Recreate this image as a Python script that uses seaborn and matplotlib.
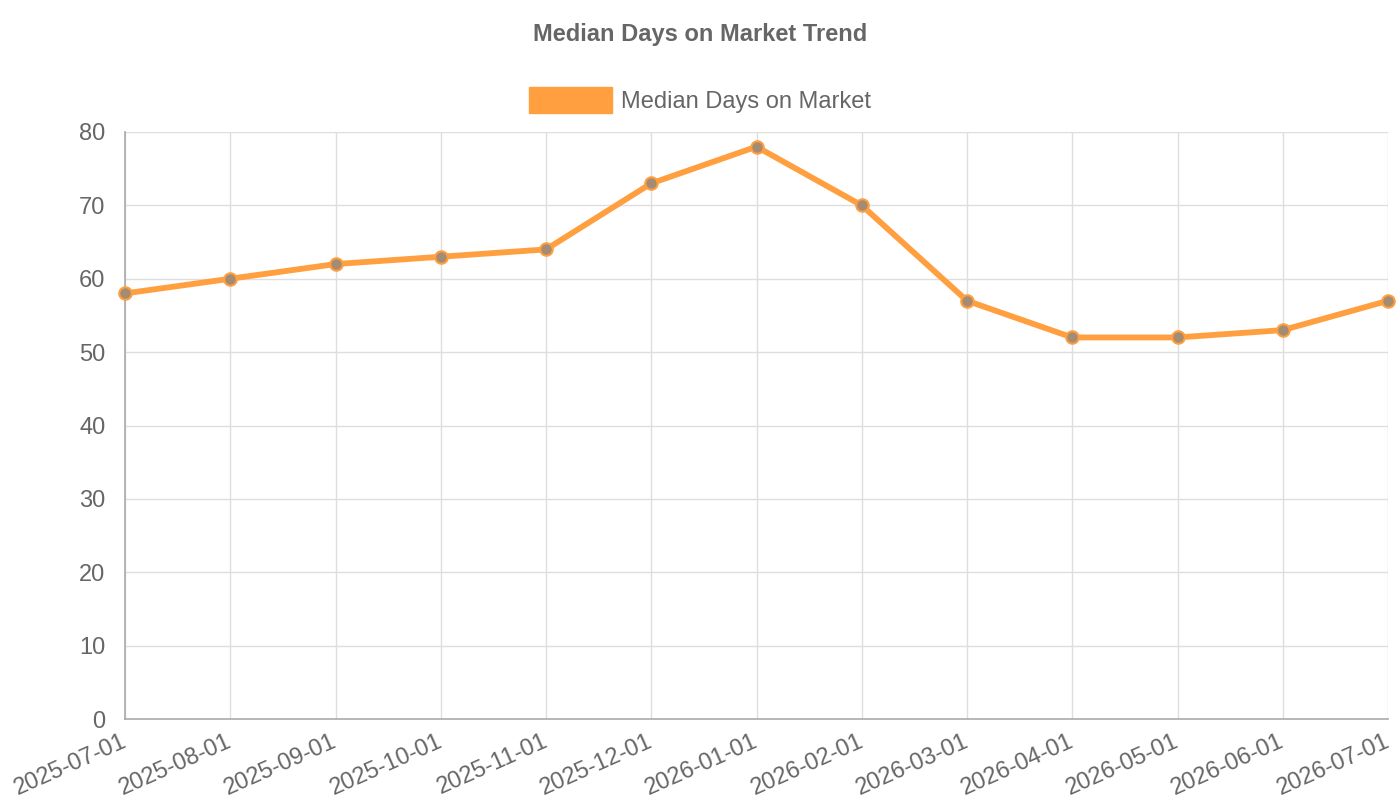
import matplotlib
matplotlib.use('Agg')
import matplotlib.pyplot as plt
import matplotlib.patches as mpatches
import matplotlib.transforms as mtransforms
import pandas as pd
import seaborn as sns

# data
months = ['2025-07-01', '2025-08-01', '2025-09-01', '2025-10-01', '2025-11-01',
          '2025-12-01', '2026-01-01', '2026-02-01', '2026-03-01', '2026-04-01',
          '2026-05-01', '2026-06-01', '2026-07-01']
median_days = [58, 60, 62, 63, 64, 73, 78, 70, 57, 52, 52, 53, 57]
series_name = 'Median Days on Market'
y_ticks = [0, 10, 20, 30, 40, 50, 60, 70, 80]

df = pd.DataFrame({'month': months, 'days': median_days})

sns.set_theme(style='white')
plt.rcParams['font.family'] = ['Liberation Sans', 'DejaVu Sans']

orange = '#ff9f40'
text_gray = '#666666'

fig = plt.figure(figsize=(14, 8), dpi=100)
ax = fig.add_axes([125/1400, 1 - 719/800, (1388-125)/1400, (719-132)/800])

sns.lineplot(data=df, x='month', y='days', ax=ax, color=orange, linewidth=4.2,
             marker='o', markersize=9, markerfacecolor='#a68b73',
             markeredgecolor=orange, markeredgewidth=1.5, sort=False,
             legend=False, clip_on=False, zorder=3)

ax.set_xlim(0, len(months) - 1)
ax.set_ylim(0, 80)
ax.set_yticks(y_ticks)
ax.set_xticks(range(len(months)))
ax.set_xticklabels(months, rotation=24, ha='right', rotation_mode='anchor')

ax.grid(True, color='#dedede', linewidth=1)
ax.set_axisbelow(True)
for side in ['top', 'right']:
    ax.spines[side].set_visible(False)
for side in ['left', 'bottom']:
    ax.spines[side].set_color('#aaaaaa')
    ax.spines[side].set_linewidth(1.2)

ax.tick_params(axis='both', which='both', length=12, width=1, color='#dddddd',
               labelsize=17, labelcolor=text_gray)
ax.tick_params(axis='y', pad=2)
ax.tick_params(axis='x', pad=0)
ax.set_xlabel('')
ax.set_ylabel('')

# nudge the rotated date labels up-left so they sit under the tick ends
shift = mtransforms.ScaledTranslation(-4/100, 5/100, fig.dpi_scale_trans)
for lbl in ax.get_xticklabels():
    lbl.set_transform(lbl.get_transform() + shift)

fig.text(0.5, 1 - 34/800, 'Median Days on Market Trend', ha='center', va='center',
         fontsize=17, fontweight='bold', color=text_gray)

handle = mpatches.Patch(facecolor=orange, edgecolor=orange, label=series_name)
leg = fig.legend(handles=[handle], loc='center', bbox_to_anchor=(0.5, 1 - 100/800),
                 frameon=False, fontsize=17, handlelength=3.5, handleheight=1.3,
                 handletextpad=0.4, labelcolor=text_gray)

fig.savefig('out.png', dpi=100)
